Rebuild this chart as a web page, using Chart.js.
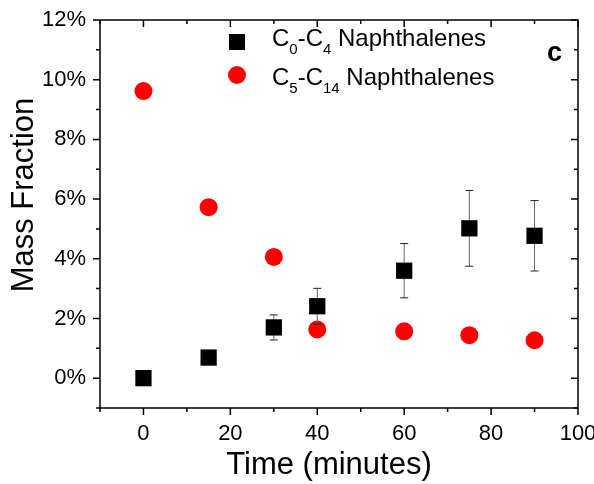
<!DOCTYPE html>
<html>
<head>
<meta charset="utf-8">
<script src="https://cdn.jsdelivr.net/npm/chart.js@4.4.1/dist/chart.umd.min.js"></script>
<style>
    html, body { margin: 0; padding: 0; background: #fff; }
    canvas { display: block; }
</style>
</head>
<body>
<canvas id="massChart" width="594" height="484"></canvas>
<script>
// sampling times (minutes)
var timeMinutes = [0, 15, 30, 40, 60, 75, 90];
// mass fraction in %
var lightNaph = [0, 0.69, 1.70, 2.41, 3.60, 5.02, 4.77];
var lightNaphErr = [0, 0, 0.42, 0.60, 0.91, 1.27, 1.18];
var heavyNaph = [9.62, 5.73, 4.06, 1.63, 1.57, 1.44, 1.27];
// legend text, [text, isSubscript]
var lightLabel = [['C', false], ['0', true], ['-C', false], ['4', true], [' Naphthalenes', false]];
var heavyLabel = [['C', false], ['5', true], ['-C', false], ['14', true], [' Naphthalenes', false]];
var xTitle = 'Time (minutes)';
var yTitle = 'Mass Fraction';
var panelTag = 'c';

var FONT = '"Liberation Sans", Arial, sans-serif';
Chart.defaults.font.family = FONT;
Chart.defaults.color = '#000';

function toPoints(xs, ys) {
    return xs.map(function (x, i) { return { x: x, y: ys[i] }; });
}

// box + ticks like the original plot (inward on top/right, outward on bottom/left)
var framePlugin = {
    id: 'frame',
    beforeDatasetsDraw: function (chart) {
        var ctx = chart.ctx, a = chart.chartArea;
        var xs = chart.scales.x, ys = chart.scales.y;
        ctx.save();
        ctx.strokeStyle = '#000';
        ctx.lineWidth = 1.5;
        ctx.strokeRect(a.left, a.top, a.right - a.left, a.bottom - a.top);
        ctx.beginPath();
        xs.ticks.forEach(function (t) {
            var px = xs.getPixelForValue(t.value);
            var len = (t.value % 20 === 0) ? 7 : 4;
            ctx.moveTo(px, a.bottom); ctx.lineTo(px, a.bottom + len);
            ctx.moveTo(px, a.top); ctx.lineTo(px, a.top + len);
        });
        ys.ticks.forEach(function (t) {
            var py = ys.getPixelForValue(t.value);
            var len = (t.value % 2 === 0) ? 7 : 4;
            ctx.moveTo(a.left - len, py); ctx.lineTo(a.left, py);
            ctx.moveTo(a.right - len, py); ctx.lineTo(a.right, py);
        });
        ctx.stroke();
        ctx.restore();
    },
    afterDatasetDraw: function (chart, args) {
        // error bars go on top of the red circles but under the squares
        if (args.index !== 1) return;
        var ctx = chart.ctx;
        var xs = chart.scales.x, ys = chart.scales.y;
        ctx.save();
        ctx.lineWidth = 1;
        timeMinutes.forEach(function (t, i) {
            var e = lightNaphErr[i];
            if (!e) return;
            var px = xs.getPixelForValue(t);
            var top = ys.getPixelForValue(lightNaph[i] + e);
            var bot = ys.getPixelForValue(lightNaph[i] - e);
            ctx.strokeStyle = '#666';
            ctx.beginPath();
            ctx.moveTo(px, top); ctx.lineTo(px, bot);
            ctx.stroke();
            ctx.strokeStyle = '#222';
            ctx.beginPath();
            ctx.moveTo(px - 4, top); ctx.lineTo(px + 4, top);
            ctx.moveTo(px - 4, bot); ctx.lineTo(px + 4, bot);
            ctx.stroke();
        });
        ctx.restore();
    },
    afterDraw: function (chart) {
        var ctx = chart.ctx;
        ctx.save();
        function drawLabel(parts, x, y) {
            ctx.fillStyle = '#000';
            ctx.textBaseline = 'alphabetic';
            ctx.textAlign = 'left';
            parts.forEach(function (p) {
                ctx.font = (p[1] ? '15px ' : '24px ') + FONT;
                ctx.fillText(p[0], x, p[1] ? y + 8 : y);
                x += ctx.measureText(p[0]).width;
            });
        }
        // legend markers
        ctx.fillStyle = '#000';
        ctx.fillRect(237 - 8, 42 - 8, 16, 16);
        ctx.fillStyle = '#ff0000';
        ctx.beginPath();
        ctx.arc(237, 75, 9, 0, Math.PI * 2);
        ctx.fill();
        drawLabel(lightLabel, 272, 46);
        drawLabel(heavyLabel, 272, 85);
        // panel tag
        ctx.fillStyle = '#000';
        ctx.font = 'bold 27px ' + FONT;
        ctx.fillText(panelTag, 547, 61);
        // axis titles
        ctx.font = '31px ' + FONT;
        ctx.textAlign = 'center';
        ctx.fillText(xTitle, 329, 474);
        ctx.translate(33, 195);
        ctx.rotate(-Math.PI / 2);
        ctx.fillText(yTitle, 0, 0);
        ctx.restore();
    }
};

var chart = new Chart(document.getElementById('massChart').getContext('2d'), {
    type: 'scatter',
    data: {
        datasets: [
            {
                label: 'C0-C4 Naphthalenes',
                data: toPoints(timeMinutes, lightNaph),
                pointStyle: 'rect',
                pointRadius: 11.5,
                pointHoverRadius: 11.5,
                backgroundColor: '#000',
                borderWidth: 0
            },
            {
                label: 'C5-C14 Naphthalenes',
                data: toPoints(timeMinutes, heavyNaph),
                pointStyle: 'circle',
                pointRadius: 9,
                pointHoverRadius: 9,
                backgroundColor: '#ff0000',
                borderWidth: 0
            }
        ]
    },
    options: {
        responsive: false,
        animation: false,
        devicePixelRatio: 1,
        layout: { padding: { left: 0, top: 20, right: 16, bottom: 0 } },
        plugins: {
            legend: { display: false },
            tooltip: { enabled: false }
        },
        scales: {
            x: {
                type: 'linear',
                min: -10,
                max: 100,
                grid: { display: false, drawTicks: false },
                border: { display: false },
                ticks: {
                    stepSize: 10,
                    padding: 13,
                    maxRotation: 0,
                    autoSkip: false,
                    font: { size: 22 },
                    callback: function (v) { return (v >= 0 && v % 20 === 0) ? v : ''; }
                },
                afterFit: function (s) { s.height = 76; s.paddingLeft = 0; s.paddingRight = 0; }
            },
            y: {
                min: -1,
                max: 12,
                grid: { display: false, drawTicks: false },
                border: { display: false },
                ticks: {
                    stepSize: 1,
                    padding: 14,
                    autoSkip: false,
                    font: { size: 22 },
                    callback: function (v) { return (v % 2 === 0 && v >= 0) ? v + '%' : ''; }
                },
                afterFit: function (s) { s.width = 100; s.paddingTop = 0; s.paddingBottom = 0; }
            }
        }
    },
    plugins: [framePlugin]
});
</script>
</body>
</html>
